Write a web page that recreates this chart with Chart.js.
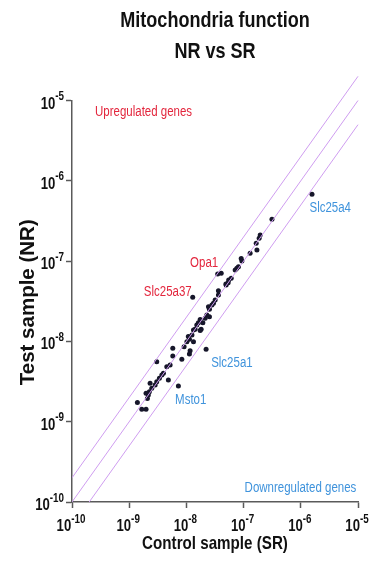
<!DOCTYPE html>
<html>
<head>
<meta charset="utf-8">
<script src="https://cdn.jsdelivr.net/npm/chart.js@4"></script>
<style>
  html, body { margin: 0; padding: 0; background: #fff; }
  canvas { display: block; }
</style>
</head>
<body>
<canvas id="scatter" width="374" height="575"></canvas>
<script>
// Control sample (SR) vs Test sample (NR), one entry per gene
const controlSR = [
  3.13e-7, 1.57e-6, 1.95e-7, 1.87e-7, 1.66e-7, 1.71e-7, 1.30e-7, 9.08e-8, 8.13e-8, 7.62e-8,
  7.12e-8, 4.06e-8, 3.52e-8, 6.07e-8, 5.48e-8, 4.90e-8, 5.37e-8, 3.63e-8, 3.63e-8, 1.29e-8,
  3.18e-8, 2.97e-8, 2.79e-8, 2.53e-8, 2.28e-8, 2.13e-8, 2.53e-8, 1.74e-8, 1.94e-8, 1.62e-8,
  1.52e-8, 1.81e-8, 1.33e-8, 1.25e-8, 1.13e-8, 1.02e-8, 1.33e-8, 9.12e-9, 2.21e-8, 5.78e-9,
  1.16e-8, 1.13e-8, 5.78e-9, 8.32e-9, 3.03e-9, 5.19e-9, 4.54e-9, 3.96e-9, 3.72e-9, 3.37e-9,
  3.03e-9, 2.84e-9, 2.48e-9, 2.25e-9, 2.16e-9, 2.08e-9, 4.84e-9, 7.24e-9, 1.39e-9, 1.66e-9,
  1.97e-9, 2.32e-9, 1.97e-9, 1.74e-8, 4.95e-8, 9.33e-8, 2.43e-8, 1.42e-8, 1.08e-8
];
const testNR = [
  3.32e-7, 6.79e-7, 2.11e-7, 1.92e-7, 1.67e-7, 1.37e-7, 1.25e-7, 1.08e-7, 8.51e-8, 8.13e-8,
  7.74e-8, 7.05e-8, 6.90e-8, 6.11e-8, 5.82e-8, 5.19e-8, 5.38e-8, 4.28e-8, 3.78e-8, 3.54e-8,
  3.28e-8, 2.98e-8, 2.84e-8, 2.51e-8, 2.13e-8, 1.94e-8, 2.03e-8, 1.88e-8, 1.71e-8, 1.71e-8,
  1.60e-8, 1.42e-8, 1.39e-8, 1.20e-8, 1.06e-8, 9.91e-9, 9.91e-9, 8.59e-9, 7.97e-9, 8.20e-9,
  7.66e-9, 6.97e-9, 6.58e-9, 5.98e-9, 5.58e-9, 5.08e-9, 4.84e-9, 4.01e-9, 3.82e-9, 3.47e-9,
  3.15e-9, 2.86e-9, 2.61e-9, 2.36e-9, 2.15e-9, 1.95e-9, 3.30e-9, 2.78e-9, 1.73e-9, 1.43e-9,
  1.43e-9, 3.01e-9, 2.26e-9, 1.37e-8, 5.04e-8, 1.00e-7, 2.70e-8, 1.42e-8, 1.15e-8
];

// fold-change guide lines (2x, 1x, 0.5x)
const guideX     = [1e-10, 1e-5];
const guideUpper = [2e-10, 2e-5];
const guideMid   = [1e-10, 1e-5];
const guideLower = [5e-11, 5e-6];

// axis decades
const tickExps = [-10, -9, -8, -7, -6, -5];

// annotations
const noteText  = ["Upregulated genes", "Downregulated genes", "Slc25a4", "Opa1", "Slc25a37", "Slc25a1", "Msto1"];
const noteX     = [2.53e-10, 9.33e-6, 1.42e-6, 1.16e-8, 1.24e-8, 2.71e-8, 6.35e-9];
const noteY     = [7.26e-6, 1.48e-10, 4.55e-7, 9.39e-8, 4.05e-8, 5.43e-9, 1.86e-9];
const noteAlign = ["left", "right", "left", "left", "right", "left", "left"];
const noteKind  = ["up", "down", "down", "up", "up", "down", "down"];

const chartTitle = ["Mitochondria function", "NR vs SR"];
const xTitle = "Control sample (SR)";
const yTitle = "Test sample (NR)";

const FONT = "'Liberation Sans', Arial, sans-serif";
const SX = 0.82;   // narrow look: the original uses a condensed face
const RED = "#e3263d";
const BLUE = "#3f93dc";
const AXIS = "#5a5a5a";
const INK = "#111";

const points = controlSR.map((x, i) => ({ x: x, y: testNR[i] }));
const line = ys => guideX.map((x, i) => ({ x: x, y: ys[i] }));

const guideStyle = {
  type: "line", borderColor: "#cf9df0", borderWidth: 1, pointRadius: 0,
  fill: false, clip: { left: 0, top: false, right: false, bottom: 0 }
};

function narrowText(ctx, text, x, y, align){
  ctx.save();
  ctx.translate(x, y);
  ctx.scale(SX, 1);
  ctx.textAlign = align;
  ctx.fillText(text, 0, 0);
  ctx.restore();
}

// titles, 10^n tick labels and gene notes
const texts = {
  id: "texts",
  afterDraw(chart){
    const ctx = chart.ctx;
    const xs = chart.scales.x, ys = chart.scales.y;
    const ca = chart.chartArea;
    const cx = (ca.left + ca.right) / 2;
    ctx.save();
    ctx.fillStyle = INK;

    // title
    ctx.textBaseline = "middle";
    ctx.font = "bold 22px " + FONT;
    narrowText(ctx, chartTitle[0], cx, 21, "center");
    narrowText(ctx, chartTitle[1], cx, 52, "center");

    // axis titles
    ctx.font = "bold 18.5px " + FONT;
    narrowText(ctx, xTitle, cx, 544, "center");
    ctx.save();
    ctx.translate(28, (ca.top + ca.bottom) / 2 + 1);
    ctx.rotate(-Math.PI / 2);
    ctx.font = "bold 20.5px " + FONT;
    ctx.textAlign = "center";
    ctx.fillText(yTitle, 0, 0);
    ctx.restore();

    // tick labels
    const base = "bold 16px " + FONT, sup = "bold 12px " + FONT;
    ctx.textBaseline = "alphabetic";
    tickExps.forEach(e => {
      const v = Math.pow(10, e);
      const exp = String(e);
      ctx.font = base; const wb = ctx.measureText("10").width * SX;
      ctx.font = sup;  const we = ctx.measureText(exp).width * SX;

      const px = xs.getPixelForValue(v);
      let left = px - 1 - (wb + we) / 2;
      ctx.font = base; narrowText(ctx, "10", left, 531, "left");
      ctx.font = sup;  narrowText(ctx, exp, left + wb, 523, "left");

      const py = ys.getPixelForValue(v);
      left = 64 - we - wb;
      ctx.font = base; narrowText(ctx, "10", left, py + 8, "left");
      ctx.font = sup;  narrowText(ctx, exp, left + wb, py - 0.5, "left");
    });

    // notes
    ctx.font = "14px " + FONT;
    ctx.textBaseline = "middle";
    noteText.forEach((t, i) => {
      ctx.fillStyle = noteKind[i] === "up" ? RED : BLUE;
      narrowText(ctx, t, xs.getPixelForValue(noteX[i]), ys.getPixelForValue(noteY[i]), noteAlign[i]);
    });
    ctx.restore();
  }
};

new Chart(document.getElementById("scatter"), {
  type: "scatter",
  data: {
    datasets: [
      Object.assign({ label: "2x", data: line(guideUpper) }, guideStyle),
      Object.assign({ label: "1x", data: line(guideMid) }, guideStyle),
      Object.assign({ label: "0.5x", data: line(guideLower) }, guideStyle),
      { label: "Genes", data: points, backgroundColor: "#16162a", borderWidth: 0, pointRadius: 2.5 }
    ]
  },
  options: {
    responsive: false,
    animation: false,
    devicePixelRatio: 1,
    layout: { padding: { left: 0, right: 16, top: 100.5, bottom: 0 } },
    plugins: {
      legend: { display: false },
      tooltip: { enabled: false },
      title: { display: false }
    },
    scales: {
      x: {
        type: "logarithmic", min: 1e-10, max: 1e-5,
        afterBuildTicks: s => { s.ticks = tickExps.map(e => ({ value: Math.pow(10, e) })); },
        afterFit: s => { s.height = 73; },
        ticks: { display: false },
        grid: { drawOnChartArea: false, drawTicks: true, tickLength: 6, tickColor: AXIS, tickWidth: 1.5 },
        border: { color: AXIS, width: 1.5 }
      },
      y: {
        type: "logarithmic", min: 1e-10, max: 1e-5,
        afterBuildTicks: s => { s.ticks = tickExps.map(e => ({ value: Math.pow(10, e) })); },
        afterFit: s => { s.width = 72; },
        ticks: { display: false },
        grid: { drawOnChartArea: false, drawTicks: true, tickLength: 6, tickColor: AXIS, tickWidth: 1.5 },
        border: { color: AXIS, width: 1.5 }
      }
    }
  },
  plugins: [texts]
});
</script>
</body>
</html>
